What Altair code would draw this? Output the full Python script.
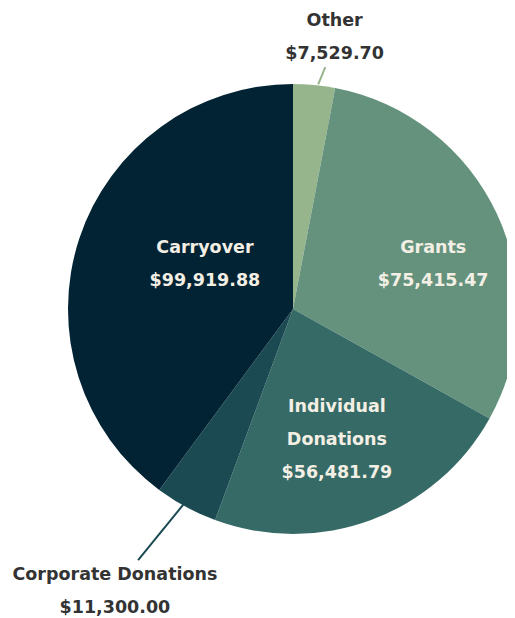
import altair as alt
import pandas as pd

categories = ["Other", "Grants", "Individual Donations", "Corporate Donations", "Carryover"]
display_labels = ["Other", "Grants", "Individual\nDonations", "Corporate Donations", "Carryover"]
amounts = [7529.70, 75415.47, 56481.79, 11300.00, 99919.88]
colors = ["#97b58c", "#64927d", "#366a66", "#1b4a52", "#022333"]

df = pd.DataFrame({
    "category": categories,
    "display": display_labels,
    "amount": amounts,
    "idx": list(range(len(categories))),
})

CX, CY, R = 285, 301, 225
total = sum(amounts)
FONT = "DejaVu Sans"
LH = 33

base = alt.Chart(df).transform_window(
    cum="sum(amount)", sort=[alt.SortField("idx")], frame=[None, 0]
).transform_calculate(
    mid="datum.cum - datum.amount / 2",
    txt="datum.display + '\\n' + format(datum.amount, '$,.2f')",
)

color_scale = alt.Scale(domain=categories, range=colors)
theta_scale = alt.Scale(domain=[0, total])

pie = alt.Chart(df).mark_arc(outerRadius=R).encode(
    theta=alt.Theta("amount:Q", stack=True, scale=theta_scale),
    color=alt.Color("category:N", scale=color_scale, legend=None),
    order=alt.Order("idx:Q"),
    x=alt.value(CX),
    y=alt.value(CY),
)

label_styles = {
    "Carryover": dict(r=98, dx=5, dy=-14, lines=2, color="#f3efe4"),
    "Grants": dict(r=147, dx=7, dy=18, lines=2, color="#f3efe4"),
    "Individual Donations": dict(r=138, dx=-4, dy=2, lines=3, color="#f3efe4"),
    "Corporate Donations": dict(r=320, dx=-26, dy=1, lines=2, color="#333333"),
    "Other": dict(r=272, dx=16, dy=-1, lines=2, color="#333333"),
}

layers = [pie]
for cat, st in label_styles.items():
    layers.append(
        base.transform_filter(alt.datum.category == cat).mark_text(
            radius=st["r"], dx=st["dx"], dy=st["dy"] - (st["lines"] - 1) * LH / 2,
            color=st["color"], font=FONT, fontSize=17.5, fontWeight="bold",
            lineBreak="\n", lineHeight=LH, align="center", baseline="middle",
        ).encode(
            theta=alt.Theta("mid:Q", stack=None, scale=theta_scale),
            text="txt:N",
            x=alt.value(CX),
            y=alt.value(CY),
        )
    )

# leader lines: radii and small angular offsets (degrees) from the slice middle
line_styles = {
    "Other": dict(r1=226, r2=244, d1=1.0, d2=2.2, color="#97b58c"),
    "Corporate Donations": dict(r1=224, r2=295, d1=0.9, d2=3.3, color="#1b4a52"),
}
for cat, st in line_styles.items():
    layers.append(
        base.transform_filter(alt.datum.category == cat).transform_calculate(
            a1=f"2 * PI * datum.mid / {total} + {st['d1']} * PI / 180",
            a2=f"2 * PI * datum.mid / {total} + {st['d2']} * PI / 180",
        ).transform_calculate(
            x1=f"{CX} + {st['r1']} * sin(datum.a1)",
            y1=f"{CY} - {st['r1']} * cos(datum.a1)",
            x2=f"{CX} + {st['r2']} * sin(datum.a2)",
            y2=f"{CY} - {st['r2']} * cos(datum.a2)",
        ).mark_rule(color=st["color"], strokeWidth=2).encode(
            x=alt.X("x1:Q", scale=None),
            y=alt.Y("y1:Q", scale=None),
            x2="x2:Q",
            y2="y2:Q",
        )
    )

chart = alt.layer(*layers).properties(
    width=499, height=610, padding=0, autosize="none"
).configure_view(stroke=None)

chart.save("out.html", embed_options={"renderer": "svg", "actions": False})
